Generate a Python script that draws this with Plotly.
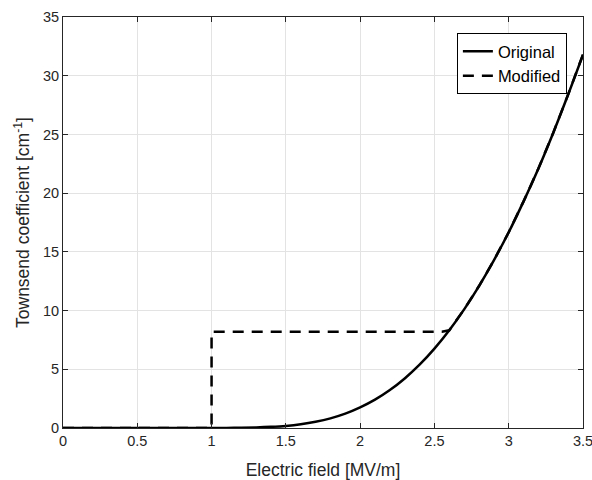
import plotly.graph_objects as go

# Electric field [MV/m]
field = [0.0, 0.5, 1.0, 1.1, 1.2, 1.3, 1.4, 1.5, 1.6, 1.7, 1.8, 1.9, 2.0,
         2.1, 2.2, 2.3, 2.4, 2.5, 2.6, 2.7, 2.8, 2.9, 3.0, 3.1, 3.2, 3.3,
         3.4, 3.5]
# Townsend ionisation coefficient, original model [1/cm]
alpha_original = [0.0, 0.0, 0.002, 0.007, 0.019, 0.045, 0.096, 0.18, 0.32,
                  0.53, 0.82, 1.22, 1.75, 2.41, 3.23, 4.22, 5.39, 6.76, 8.32,
                  10.1, 12.09, 14.28, 16.67, 19.3, 22.1, 25.15, 28.4, 31.8]

# Modified model: step to a constant plateau, then rejoins the original curve
field_modified = [0.0, 1.0, 1.0, 2.55, 2.6, 2.7, 2.8, 2.9, 3.0, 3.1, 3.2,
                  3.3, 3.4, 3.5]
alpha_modified = [0.0, 0.0, 8.2, 8.2, 8.32, 10.1, 12.09, 14.28, 16.67, 19.3,
                  22.1, 25.15, 28.4, 31.8]

x_ticks = [0, 0.5, 1, 1.5, 2, 2.5, 3, 3.5]
x_tick_text = ["0", "0.5", "1", "1.5", "2", "2.5", "3", "3.5"]
y_ticks = [0, 5, 10, 15, 20, 25, 30, 35]

font_family = "Liberation Sans, Arial, sans-serif"
axis_color = "#262626"

fig = go.Figure()
fig.add_trace(go.Scatter(
    x=field_modified, y=alpha_modified, mode="lines", name="Modified",
    legendrank=2,
    line=dict(color="black", width=2.5, dash="11px,8px"),
))
fig.add_trace(go.Scatter(
    x=field, y=alpha_original, mode="lines", name="Original",
    legendrank=1, line_shape="spline",
    line=dict(color="black", width=2.5),
))

axis_common = dict(
    showline=True, linecolor=axis_color, linewidth=1, mirror="ticks",
    ticks="inside", ticklen=5, tickcolor=axis_color,
    showgrid=True, gridcolor="#e3e3e3", gridwidth=1, zeroline=False,
    automargin=False, ticklabeloverflow="allow",
    tickfont=dict(family=font_family, size=14.5, color=axis_color),
)

fig.update_xaxes(
    range=[0, 3.5], tickvals=x_ticks, ticktext=x_tick_text,
    title=dict(text="Electric field [MV/m]", standoff=15,
               font=dict(family=font_family, size=17.5, color=axis_color)),
    **axis_common,
)
fig.update_yaxes(
    range=[0, 35], tickvals=y_ticks,
    title=dict(text="Townsend coefficient [cm<sup>-1</sup>]", standoff=8,
               font=dict(family=font_family, size=17.5, color=axis_color)),
    **axis_common,
)

fig.update_layout(
    width=592, height=480,
    margin=dict(l=63, r=9, t=17, b=52),
    paper_bgcolor="white", plot_bgcolor="white",
    font=dict(family=font_family, color=axis_color),
    legend=dict(
        x=0.969, y=0.961, xanchor="right", yanchor="top",
        bgcolor="white", bordercolor="black", borderwidth=1,
        font=dict(family=font_family, size=16.5, color="black"),
        tracegroupgap=0,
    ),
    showlegend=True,
)

fig.write_html("out.html")
